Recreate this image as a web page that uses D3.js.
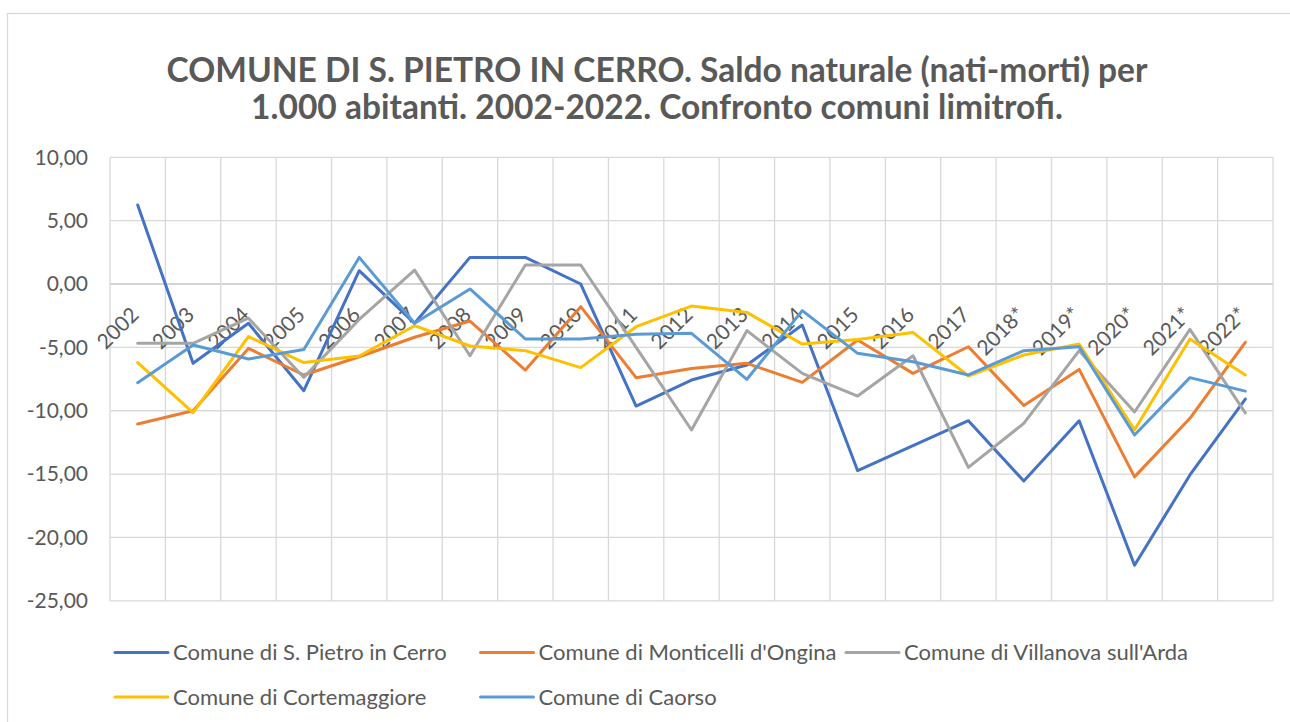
<!doctype html>
<html lang="it">
<head>
<meta charset="utf-8">
<title>Saldo naturale - S. Pietro in Cerro</title>
<script src="https://d3js.org/d3.v7.min.js"></script>
<style>
  body { margin: 0; background: #fff; }
  svg text { font-family: Lato, "Open Sans", sans-serif; fill: #595959; }
  .title { font-weight: bold; font-size: 33.5px; }
  .tick-lab { font-size: 21px; }
  .leg-lab { font-size: 22px; }
</style>
</head>
<body>
<svg id="chart" width="1290" height="722"></svg>
<script>

// categorie (anni)
const anni = ["2002","2003","2004","2005","2006","2007","2008","2009","2010","2011","2012",
  "2013","2014","2015","2016","2017","2018*","2019*","2020*","2021*","2022*"];

// saldo naturale per 1.000 abitanti
const sPietro = [6.24,-6.26,-3.10,-8.42,1.05,-3.10,2.10,2.10,0.00,-9.63,-7.58,
  -6.39,-3.24,-14.73,-12.76,-10.79,-15.55,-10.79,-22.20,-15.07,-9.08];
const monticelli = [-11.05,-10.00,-5.08,-7.18,-5.74,-4.20,-2.92,-6.79,-1.79,-7.39,-6.66,
  -6.26,-7.76,-4.42,-7.05,-4.95,-9.58,-6.74,-15.22,-10.60,-4.60];
const villanova = [-4.68,-4.68,-2.70,-7.37,-2.80,1.10,-5.66,1.50,1.50,-5.00,-11.52,
  -3.68,-7.05,-8.84,-5.66,-14.47,-11.00,-5.26,-10.10,-3.58,-10.17];
const cortemaggiore = [-6.20,-10.15,-4.15,-6.20,-5.68,-3.29,-4.89,-5.26,-6.60,-3.37,-1.74,
  -2.24,-4.74,-4.37,-3.82,-7.26,-5.60,-4.74,-11.50,-4.34,-7.18];
const caorso = [-7.79,-4.81,-5.92,-5.16,2.10,-3.10,-0.39,-4.34,-4.34,-3.97,-3.89,
  -7.52,-2.10,-5.47,-6.13,-7.18,-5.26,-4.95,-11.92,-7.39,-8.45];

const nomi = ["Comune di S. Pietro in Cerro","Comune di Monticelli d'Ongina",
  "Comune di Villanova sull'Arda","Comune di Cortemaggiore","Comune di Caorso"];
const colori = ["#4472C4","#ED7D31","#A5A5A5","#FFC000","#5B9BD5"];
const yTicks = [10,5,0,-5,-10,-15,-20,-25];

const series = [sPietro, monticelli, villanova, cortemaggiore, caorso].map(function(v, i) {
  return { nome: nomi[i], colore: colori[i], valori: v };
});

const svg = d3.select("#chart");

// bordo area grafico
svg.append("rect")
  .attr("x", 7.5).attr("y", 13.5)
  .attr("width", 1300).attr("height", 730)
  .attr("fill", "none").attr("stroke", "#d9d9d9").attr("stroke-width", 1.3);

// titolo
const titolo = svg.append("text").attr("class", "title").attr("text-anchor", "middle");
titolo.append("tspan").attr("x", 657).attr("y", 82)
  .text("COMUNE DI S. PIETRO IN CERRO. Saldo naturale (nati-morti) per");
titolo.append("tspan").attr("x", 657).attr("y", 119)
  .text("1.000 abitanti. 2002-2022. Confronto comuni limitrofi.");

const pLeft = 110, pRight = 1273, pTop = 157.3, pBottom = 600.8;

let x = d3.scaleBand().domain(anni).range([pLeft, pRight]).padding(0);
let y = d3.scaleLinear().domain([-25, 10]).range([pBottom, pTop]);

// griglia orizzontale
svg.append("g")
  .selectAll("line")
  .data(yTicks)
  .join("line")
    .attr("x1", pLeft).attr("x2", pRight)
    .attr("y1", d => y(d)).attr("y2", d => y(d))
    .attr("stroke", d => d === 0 ? "#c6c6c6" : "#d9d9d9")
    .attr("stroke-width", 1.3);

// griglia verticale (confini delle categorie)
const bordi = anni.map(a => x(a)).concat([pRight]);
svg.append("g")
  .selectAll("line")
  .data(bordi)
  .join("line")
    .attr("x1", d => d).attr("x2", d => d)
    .attr("y1", pTop).attr("y2", pBottom)
    .attr("stroke", "#d9d9d9")
    .attr("stroke-width", 1.3);

// etichette asse y (virgola decimale, trattino semplice)
svg.append("g")
  .selectAll("text")
  .data(yTicks)
  .join("text")
    .attr("class", "tick-lab")
    .attr("x", 88)
    .attr("y", d => y(d))
    .attr("dy", "0.35em")
    .attr("text-anchor", "end")
    .text(d => d.toFixed(2).replace(".", ","));

// etichette asse x, ruotate, sotto le linee
svg.append("g")
  .selectAll("text")
  .data(anni)
  .join("text")
    .attr("class", "tick-lab")
    .attr("text-anchor", "end")
    .attr("transform", d => "translate(" + (x(d) + x.bandwidth() / 2 + 2.5) + "," + (y(0) + 32) + ") rotate(-45)")
    .text(d => d);

// linee
let line = d3.line()
  .x((d, i) => x(anni[i]) + x.bandwidth() / 2)
  .y(d => y(d));

svg.append("g")
  .selectAll("path")
  .data(series)
  .join("path")
    .attr("d", d => line(d.valori))
    .attr("fill", "none")
    .attr("stroke", d => d.colore)
    .attr("stroke-width", 3)
    .attr("stroke-linejoin", "round")
    .attr("stroke-linecap", "round");

// legenda
const leg = svg.append("g")
  .selectAll("g")
  .data(series)
  .join("g")
    .attr("transform", (d, i) => "translate(" + (115 + (i % 3) * 365.5) + "," + (652.5 + Math.floor(i / 3) * 44.5) + ")");

leg.append("line")
  .attr("x1", 0).attr("x2", 53)
  .attr("stroke", d => d.colore)
  .attr("stroke-width", 3)
  .attr("stroke-linecap", "round");

leg.append("text")
  .attr("class", "leg-lab")
  .attr("x", 58)
  .attr("dy", "0.35em")
  .text(d => d.nome);

</script>
</body>
</html>
